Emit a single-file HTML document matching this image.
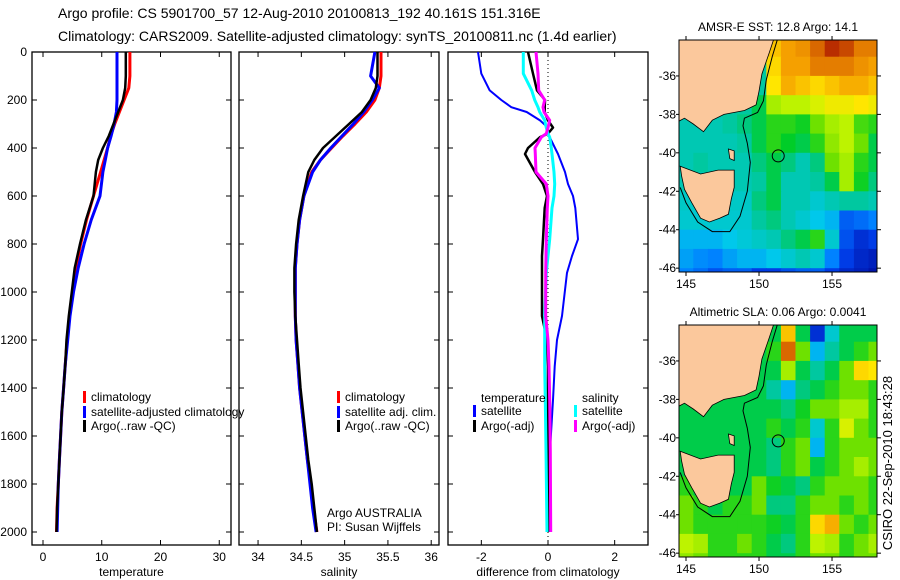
<!DOCTYPE html>
<html><head><meta charset="utf-8"><style>
body{margin:0;background:#fff}
svg{display:block;font-family:"Liberation Sans",sans-serif}
</style></head><body>
<svg id="s" width="900" height="580" viewBox="0 0 900 580" xmlns="http://www.w3.org/2000/svg">
<text x="58" y="18" font-size="14">Argo profile: CS 5901700_57 12-Aug-2010 20100813_192 40.161S 151.316E</text>
<text x="58" y="41" font-size="14">Climatology: CARS2009. Satellite-adjusted climatology: synTS_20100811.nc (1.4d earlier)</text>
<g id="g"></g>
<text transform="translate(892,463) rotate(-90)" text-anchor="middle" font-size="13">CSIRO 22-Sep-2010 18:43:28</text>
</svg>
<script>
// ---- profile data ----
const depths=[0,100,150,200,250,300,350,400,450,500,600,700,800,900,1000,1100,1200,1300,1400,1500,1600,1700,1800,1900,2000];
const tempClim=[14.8,14.8,14.6,13.8,13.0,12.2,11.5,11.0,10.4,9.8,8.6,7.4,6.4,5.6,5.0,4.5,4.1,3.8,3.5,3.2,3.0,2.8,2.6,2.4,2.3];
const tempSat=[12.6,12.6,12.6,12.6,12.5,12.1,11.6,11.0,10.6,10.2,9.7,8.2,7.0,6.0,5.2,4.6,4.2,3.8,3.5,3.2,3.0,2.8,2.6,2.5,2.4];
const tempArgo=[14.1,14.1,14.0,13.6,12.8,12.0,11.2,10.2,9.4,9.0,8.6,7.3,6.3,5.4,4.9,4.4,4.0,3.8,3.5,3.2,3.0,2.8,2.6,2.4,2.3];
const salClim=[35.42,35.42,35.4,35.35,35.25,35.12,34.98,34.85,34.72,34.62,34.53,34.48,34.45,34.43,34.43,34.43,34.44,34.46,34.48,34.51,34.54,34.57,34.61,34.64,34.68];
const salSat=[35.35,35.3,35.4,35.32,35.22,35.1,34.97,34.84,34.72,34.63,34.53,34.48,34.45,34.43,34.43,34.43,34.44,34.46,34.48,34.51,34.54,34.57,34.6,34.63,34.67];
const salArgo=[35.38,35.38,35.36,35.3,35.2,35.05,34.9,34.75,34.65,34.58,34.52,34.47,34.44,34.42,34.42,34.43,34.45,34.47,34.49,34.52,34.55,34.58,34.62,34.65,34.68];
const dDepths=[0,90,160,200,230,250,285,315,340,355,400,425,500,550,600,650,780,850,920,1100,1200,1310,1450,1660,2000];
const dTempSat=[-2.1,-2.0,-1.75,-1.4,-1.1,-0.64,-0.24,0,0,0.05,0.21,0.3,0.51,0.6,0.75,0.82,0.9,0.72,0.57,0.42,0.27,0.2,0.15,0.06,0.03];
const dTempArgo=[-0.6,-0.45,-0.33,-0.09,-0.1,-0.1,0,0.15,0.0,-0.24,-0.6,-0.69,-0.39,-0.15,-0.03,-0.1,-0.15,-0.18,-0.18,-0.18,-0.03,0,0,0,0.02];
const dSalSat=[-0.74,-0.74,-0.49,-0.4,-0.3,-0.25,-0.1,-0.05,0,0.05,0.1,0.12,0.18,0.2,0.18,0.12,0.05,0,-0.05,-0.1,-0.1,-0.1,-0.08,-0.06,-0.03];
const dSalArgo=[-0.36,-0.3,-0.28,-0.1,-0.15,-0.12,0.05,0.0,-0.05,-0.2,-0.39,-0.38,-0.36,-0.05,0,-0.02,-0.05,-0.06,-0.07,-0.07,0,0.03,0.05,0.07,0.08];
const depthTicks=[0,200,400,600,800,1000,1200,1400,1600,1800,2000];
const tempTicks=[0,10,20,30];
const salTicks=[34,34.5,35,35.5,36];
const diffTicks=[-2,0,2];
// ---- map data (1-degree cells, rows from lat -34 southward, cols from lon 144.5 eastward), normalized colour 0..1 ----
const sstGrid=[
[.4,.4,.4,.4,.4,.4,.75,.8,.82,.88,.95,.92,.85,.85],
[.4,.4,.4,.4,.4,.4,.72,.8,.8,.85,.85,.85,.82,.8],
[.4,.4,.4,.4,.4,.4,.7,.78,.75,.72,.75,.78,.78,.75],
[.4,.4,.4,.4,.4,.45,.6,.62,.62,.65,.68,.68,.7,.68],
[.38,.38,.38,.4,.42,.45,.5,.5,.48,.55,.6,.62,.52,.5],
[.38,.38,.38,.38,.4,.45,.5,.47,.45,.5,.58,.62,.55,.45],
[.38,.4,.38,.38,.38,.42,.45,.42,.38,.42,.55,.6,.5,.45],
[.38,.38,.38,.38,.38,.4,.45,.38,.38,.4,.45,.6,.48,.42],
[.36,.36,.36,.36,.36,.42,.45,.38,.38,.35,.38,.4,.4,.38],
[.35,.35,.35,.35,.35,.4,.42,.38,.35,.32,.3,.2,.22,.25],
[.3,.3,.3,.32,.34,.36,.38,.42,.45,.5,.35,.18,.12,.15],
[.28,.26,.25,.28,.3,.3,.32,.35,.38,.35,.25,.15,.1,.08],
[.25,.22,.18,.2,.2,.15,.15,.18,.2,.2,.15,.1,.08,.05]];
const slaGrid=[
[.45,.45,.45,.45,.45,.45,.45,.75,.45,.12,.35,.45,.45,.45],
[.45,.45,.45,.45,.45,.45,.5,.88,.55,.3,.4,.45,.5,.55],
[.45,.45,.45,.45,.45,.45,.45,.6,.45,.4,.45,.55,.72,.7],
[.45,.45,.45,.45,.45,.45,.4,.3,.42,.45,.5,.55,.55,.5],
[.45,.45,.45,.45,.45,.45,.45,.42,.48,.55,.55,.6,.6,.5],
[.45,.45,.45,.45,.45,.45,.5,.45,.5,.35,.5,.65,.55,.5],
[.45,.45,.45,.45,.45,.45,.42,.5,.55,.3,.5,.55,.55,.55],
[.45,.45,.45,.45,.45,.45,.42,.5,.55,.45,.5,.55,.6,.55],
[.5,.45,.45,.45,.45,.55,.48,.45,.42,.5,.55,.55,.55,.5],
[.55,.5,.45,.5,.5,.55,.42,.42,.5,.55,.55,.5,.55,.5],
[.55,.5,.5,.5,.5,.5,.48,.45,.5,.72,.78,.55,.5,.55],
[.62,.6,.5,.5,.55,.5,.45,.42,.5,.62,.6,.5,.55,.6],
[.58,.55,.5,.5,.5,.5,.45,.45,.5,.55,.55,.5,.55,.55]];
const lonTicks=[145,150,155];
const latTicks=[-36,-38,-40,-42,-44,-46];
const floatLon=151.316, floatLat=-40.161;

const NS="http://www.w3.org/2000/svg";
const G=document.getElementById('g');
function mk(tag,attrs,parent){const e=document.createElementNS(NS,tag);for(const k in attrs)e.setAttribute(k,attrs[k]);(parent||G).appendChild(e);return e;}
function txt(x,y,s,size,anchor,parent){const t=mk('text',{x:x,y:y,'font-size':size,'text-anchor':anchor||'start'},parent);t.textContent=s;return t;}

const TOP=52, BOT=545;
const yD=d=>TOP+d*0.24;

function panel(name,x0,x1,v0,v1,ticks,title,showY){
  const g=mk('g',{});
  
  
  const xs=v=>x0+(v-v0)/(v1-v0)*(x1-x0);
  const r=mk('rect',{x:x0,y:TOP,width:x1-x0,height:BOT-TOP,fill:'none',stroke:'#000','stroke-width':1.3},g);
  
  
  depthTicks.forEach(d=>{
    mk('line',{x1:x0,x2:x0+5,y1:yD(d),y2:yD(d),stroke:'#000'},g);
    mk('line',{x1:x1,x2:x1-5,y1:yD(d),y2:yD(d),stroke:'#000'},g);
    if(showY){const t=txt(x0-5,yD(d)+4,String(d),12,'end',g);
      
      }
  });
  ticks.forEach(v=>{
    mk('line',{x1:xs(v),x2:xs(v),y1:TOP,y2:TOP+5,stroke:'#000'},g);
    mk('line',{x1:xs(v),x2:xs(v),y1:BOT,y2:BOT-5,stroke:'#000'},g);
    const t=txt(xs(v),561,String(v),12,'middle',g);
    
    
  });
  const at=txt((x0+x1)/2,576,title,12,'middle',g);
  
  
  return {g,xs};
}
function line(p,ds,vals,color,w,name){
  const pts=ds.map((d,i)=>p.xs(vals[i]).toFixed(1)+','+yD(d).toFixed(1)).join(' ');
  const l=mk('polyline',{points:pts,fill:'none',stroke:color,'stroke-width':w,'stroke-linejoin':'round'},p.g);
  
  
}
function legend(g,x,y,color,label,name){
  mk('rect',{x:x,y:y-10,width:3,height:12,fill:color},g);
  const t=txt(x+8,y,label,12,'start',g);
  
  
}

// Panel 1 temperature
const p1=panel('temperature-panel',32,231,-1.87,32.0,tempTicks,'temperature',true);
line(p1,depths,tempClim,'#f00',3,'temp-climatology-line');
line(p1,depths,tempSat,'#00f',3,'temp-satellite-line');
line(p1,depths,tempArgo,'#000',2.5,'temp-argo-line');
legend(p1.g,83,401,'#f00','climatology','legend-climatology');
legend(p1.g,83,416,'#00f','satellite-adjusted climatology','legend-satellite-adjusted');
legend(p1.g,83,430,'#000','Argo(..raw -QC)','legend-argo');

// Panel 2 salinity
const p2=panel('salinity-panel',239,439,33.78,36.09,salTicks,'salinity',false);
line(p2,depths,salClim,'#f00',3,'sal-climatology-line');
line(p2,depths,salSat,'#00f',3,'sal-satellite-line');
line(p2,depths,salArgo,'#000',2.5,'sal-argo-line');
legend(p2.g,337,401,'#f00','climatology','legend-climatology');
legend(p2.g,337,416,'#00f','satellite adj. clim.','legend-satellite-adj');
legend(p2.g,337,430,'#000','Argo(..raw -QC)','legend-argo');
let t=txt(327,517,'Argo AUSTRALIA',12,'start',p2.g);


t=txt(327,531,'PI: Susan Wijffels',12,'start',p2.g);



// Panel 3 difference
const p3=panel('difference-panel',448,648,-3.0,3.0,diffTicks,'difference from climatology',false);
mk('line',{x1:p3.xs(0),x2:p3.xs(0),y1:TOP,y2:BOT,stroke:'#000','stroke-dasharray':'1,3'},p3.g);
line(p3,dDepths,dTempSat,'#00f',2,'diff-temp-satellite-line');
line(p3,dDepths,dTempArgo,'#000',2.5,'diff-temp-argo-line');
line(p3,dDepths,dSalSat,'#0ff',3,'diff-sal-satellite-line');
line(p3,dDepths,dSalArgo,'#f0f',3,'diff-sal-argo-line');
t=txt(481,402,'temperature',12,'start',p3.g);


t=txt(582,402,'salinity',12,'start',p3.g);


legend(p3.g,473,415,'#00f','satellite','legend-temp-satellite');
legend(p3.g,473,430,'#000','Argo(-adj)','legend-temp-argo');
legend(p3.g,574,415,'#0ff','satellite','legend-sal-satellite');
legend(p3.g,574,430,'#f0f','Argo(-adj)','legend-sal-argo');

// ---- maps ----
const cmapStops=[[0,[0,0,140]],[0.15,[0,60,230]],[0.25,[0,130,255]],[0.32,[0,200,235]],[0.4,[0,200,160]],[0.47,[0,205,40]],[0.55,[110,225,0]],[0.63,[200,245,0]],[0.7,[255,230,0]],[0.8,[245,160,0]],[0.9,[210,90,0]],[1,[160,0,0]]];
function cmap(v){v=Math.max(0,Math.min(1,v));
  for(let i=1;i<cmapStops.length;i++){const [a,ca]=cmapStops[i-1],[b,cb]=cmapStops[i];
    if(v<=b){const f=(v-a)/(b-a);return `rgb(${ca.map((c,k)=>Math.round(c+(cb[k]-c)*f)).join(',')})`;}}
  return 'rgb(160,0,0)';}
let clipN=0;
function map(name,y0,grid,title){
  const x0=679,x1=877,y1=y0+232,L0=144.52,L1=158.08,A0=-34.13,A1=-46.2;
  const lx=l=>x0+(l-L0)/(L1-L0)*(x1-x0);
  const ly=a=>y0+(a-A0)/(A1-A0)*(y1-y0);
  const g=mk('g',{});
  
  
  const id='c'+(clipN++);
  const cp=mk('clipPath',{id:id},g);mk('rect',{x:x0,y:y0,width:x1-x0,height:y1-y0},cp);
  const cg=mk('g',{'clip-path':`url(#${id})`},g);
  grid.forEach((row,ri)=>row.forEach((v,ci)=>{
    const lon=144.5+ci, lat=-34-ri;
    const c=mk('rect',{x:lx(lon).toFixed(1),y:ly(lat).toFixed(1),width:(lx(lon+1)-lx(lon)+0.6).toFixed(1),height:(ly(lat-1)-ly(lat)+0.6).toFixed(1),fill:cmap(v)},cg);
    
    
  }));
  const P=a=>a.map(p=>lx(p[0]).toFixed(1)+','+ly(p[1]).toFixed(1)).join(' ');
  const main=[[144.4,-34],[151.05,-34],[150.7,-34.8],[150.2,-35.9],[150.0,-36.8],[149.8,-37.5],[149.0,-37.8],[147.6,-38.0],[146.8,-38.3],[146.2,-38.9],[145.5,-38.5],[144.9,-38.2],[144.4,-38.4]];
  const tas=[[144.6,-40.7],[146,-41.1],[147.2,-40.9],[148.3,-40.9],[148.3,-41.8],[148.1,-42.4],[147.9,-43.2],[147.3,-43.4],[146.6,-43.6],[146.0,-43.4],[145.4,-42.6],[144.9,-41.9],[144.7,-41.2]];
  const fl=[[147.9,-39.8],[148.3,-39.9],[148.3,-40.4],[148.0,-40.3]];
  [[main,'mainland'],[tas,'tasmania'],[fl,'flinders-island']].forEach(([pp,n])=>{
    const e=mk('polygon',{points:P(pp),fill:'#fbc89c',stroke:'#000','stroke-width':0.8},cg);
    
    
  });
  const shelf=[[151.3,-34],[150.9,-35],[150.5,-36.2],[150.3,-37.3],[149.9,-37.9],[149.0,-38.2],[148.9,-38.6],[149.2,-39.5],[149.4,-40.5],[149.2,-42],[148.7,-43.3],[148.0,-44.1],[146.8,-44.1],[145.8,-43.6],[145.0,-42.6],[144.6,-41.8]];
  const sh=mk('polyline',{points:P(shelf),fill:'none',stroke:'#000','stroke-width':1},cg);
  
  
  const fc=mk('circle',{cx:lx(floatLon),cy:ly(floatLat),r:6,fill:'none',stroke:'#000','stroke-width':1},g);
  
  
  mk('rect',{x:x0,y:y0,width:x1-x0,height:y1-y0,fill:'none',stroke:'#000','stroke-width':1},g);
  lonTicks.forEach(l=>{
    mk('line',{x1:lx(l),x2:lx(l),y1:y1,y2:y1+4,stroke:'#000'},g);
    mk('line',{x1:lx(l),x2:lx(l),y1:y0,y2:y0-4,stroke:'#000'},g);
    const tt=txt(lx(l),y1+16,String(l),12,'middle',g);
    
    
  });
  latTicks.forEach(a=>{
    mk('line',{x1:x0,x2:x0-3,y1:ly(a),y2:ly(a),stroke:'#000'},g);
    mk('line',{x1:x1,x2:x1+4,y1:ly(a),y2:ly(a),stroke:'#000'},g);
    const tt=txt(x0-3,ly(a)+4,String(a),12,'end',g);
    
    
  });
  const tt=txt((x0+x1)/2,y0-9,title,12,'middle',g);
  
  
}
map('sst-map',40,sstGrid,'AMSR-E SST: 12.8 Argo: 14.1');
map('sla-map',325,slaGrid,'Altimetric SLA: 0.06 Argo: 0.0041');
</script>
</body></html>
